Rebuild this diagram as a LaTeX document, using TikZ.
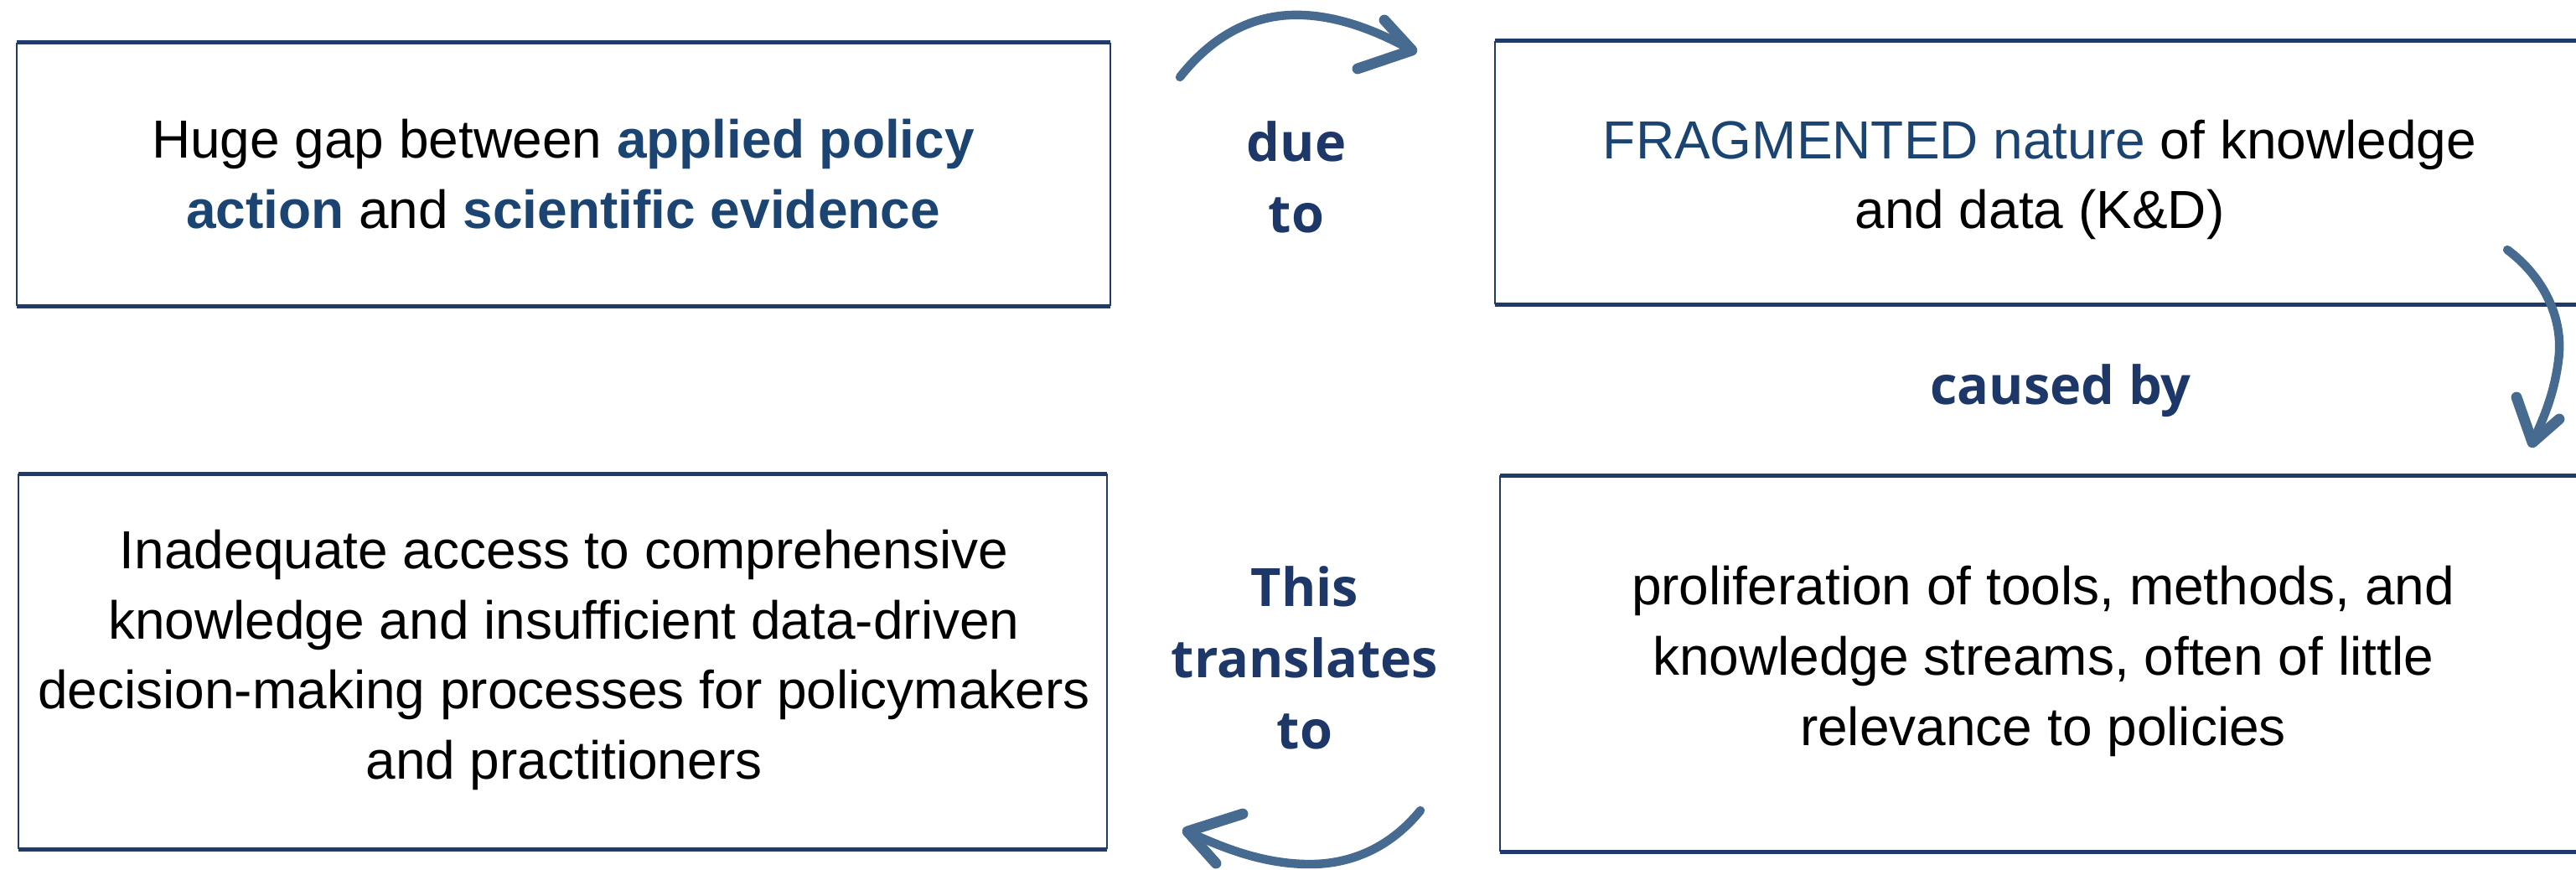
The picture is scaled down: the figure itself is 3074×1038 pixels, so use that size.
\documentclass[tikz,border=0pt]{standalone}
\usepackage{fontspec}
\setmainfont{Liberation Sans}
\newfontfamily\labfont{Open Sans}
\definecolor{boxline}{HTML}{1F3A6B}
\definecolor{hilite}{HTML}{1B4472}
\definecolor{labcol}{HTML}{1D3768}
\definecolor{arrcol}{HTML}{476A91}
\begin{document}
\begin{tikzpicture}[x=0.25pt,y=-0.25pt,
  boxtext/.style={inner sep=0pt,align=center,font=\fontsize{16pt}{20.9pt}\selectfont},
  labtext/.style={inner sep=0pt,align=center,text=labcol,font=\labfont\bfseries\fontsize{15.75pt}{21.25pt}\selectfont},
  edgeh/.style={draw=boxline,line width=1.25pt},
  edgev/.style={draw=boxline,line width=0.6pt},
  curvearrow/.style={draw=arrcol,line width=2.6pt,line cap=round,line join=round},
  arrowbarb/.style={draw=arrcol,line width=3.2pt,line cap=round,line join=round}]
\useasboundingbox (0,0) rectangle (3074,1038);
\begin{scope}
\clip (0,0) rectangle (3074,1038);
% box frames as named coordinates
\coordinate (b1nw) at (20,51);   \coordinate (b1se) at (1325,365);
\coordinate (b2nw) at (1784,49); \coordinate (b2se) at (3090,363);
\coordinate (b3nw) at (22,565);  \coordinate (b3se) at (1321,1013);
\coordinate (b4nw) at (1790,567);\coordinate (b4se) at (3090,1016);
\foreach \b in {b1,b2,b3,b4}{
  \draw[edgeh] (\b nw) -- (\b nw -| \b se);
  \draw[edgeh] (\b nw |- \b se) -- (\b se);
  \draw[edgev] (\b nw) -- (\b nw |- \b se);
  \draw[edgev] (\b nw -| \b se) -- (\b se);
}
% texts
\node[boxtext] (box1) at (672,207.5) {Huge gap between \textcolor{hilite}{\bfseries applied policy}\\\textcolor{hilite}{\bfseries action} and \textcolor{hilite}{\bfseries scientific evidence}};
\node[boxtext] (box2) at (2434,214.5) {\textcolor{hilite}{FRAGMENTED nature} of knowledge\\and data (K\&D)};
\node[boxtext] (box3) at (673,787.5) {Inadequate access to comprehensive\\knowledge and insufficient data-driven\\decision-making processes for policymakers\\and practitioners};
\node[boxtext] (box4) at (2438,789) {proliferation of tools, methods, and\\knowledge streams, often of little\\relevance to policies};
% labels
\node[labtext] (lab1) at (1547,211) {due\\to};
\node[labtext,anchor=base] (lab2) at (2459,483) {caused by};
\node[labtext] (lab3) at (1557,785) {This\\translates\\to};
% arrows
\coordinate (a1s) at (1408,92);
\coordinate (a1t) at (1685,60);
\draw[curvearrow] (a1s) .. controls (1445,45) and (1490,20) .. (1540,18) .. controls (1590,16) and (1640,35) .. (a1t);
\draw[arrowbarb] (1652,24) -- (a1t) -- (1620,82);
\coordinate (a2s) at (2992,298);
\coordinate (a2t) at (3022,528);
\draw[curvearrow] (a2s) .. controls (3035,330) and (3060,380) .. (3053,430) .. controls (3048,470) and (3035,500) .. (a2t);
\draw[arrowbarb] (3003,474) -- (a2t) -- (3054,500);
\coordinate (a3s) at (1695,967);
\coordinate (a3t) at (1417,992);
\draw[curvearrow] (a3s) .. controls (1660,1010) and (1615,1030) .. (1567,1031) .. controls (1510,1032) and (1460,1012) .. (a3t);
\draw[arrowbarb] (1483,971) -- (a3t) -- (1451,1030);
\end{scope}
\end{tikzpicture}
\end{document}
